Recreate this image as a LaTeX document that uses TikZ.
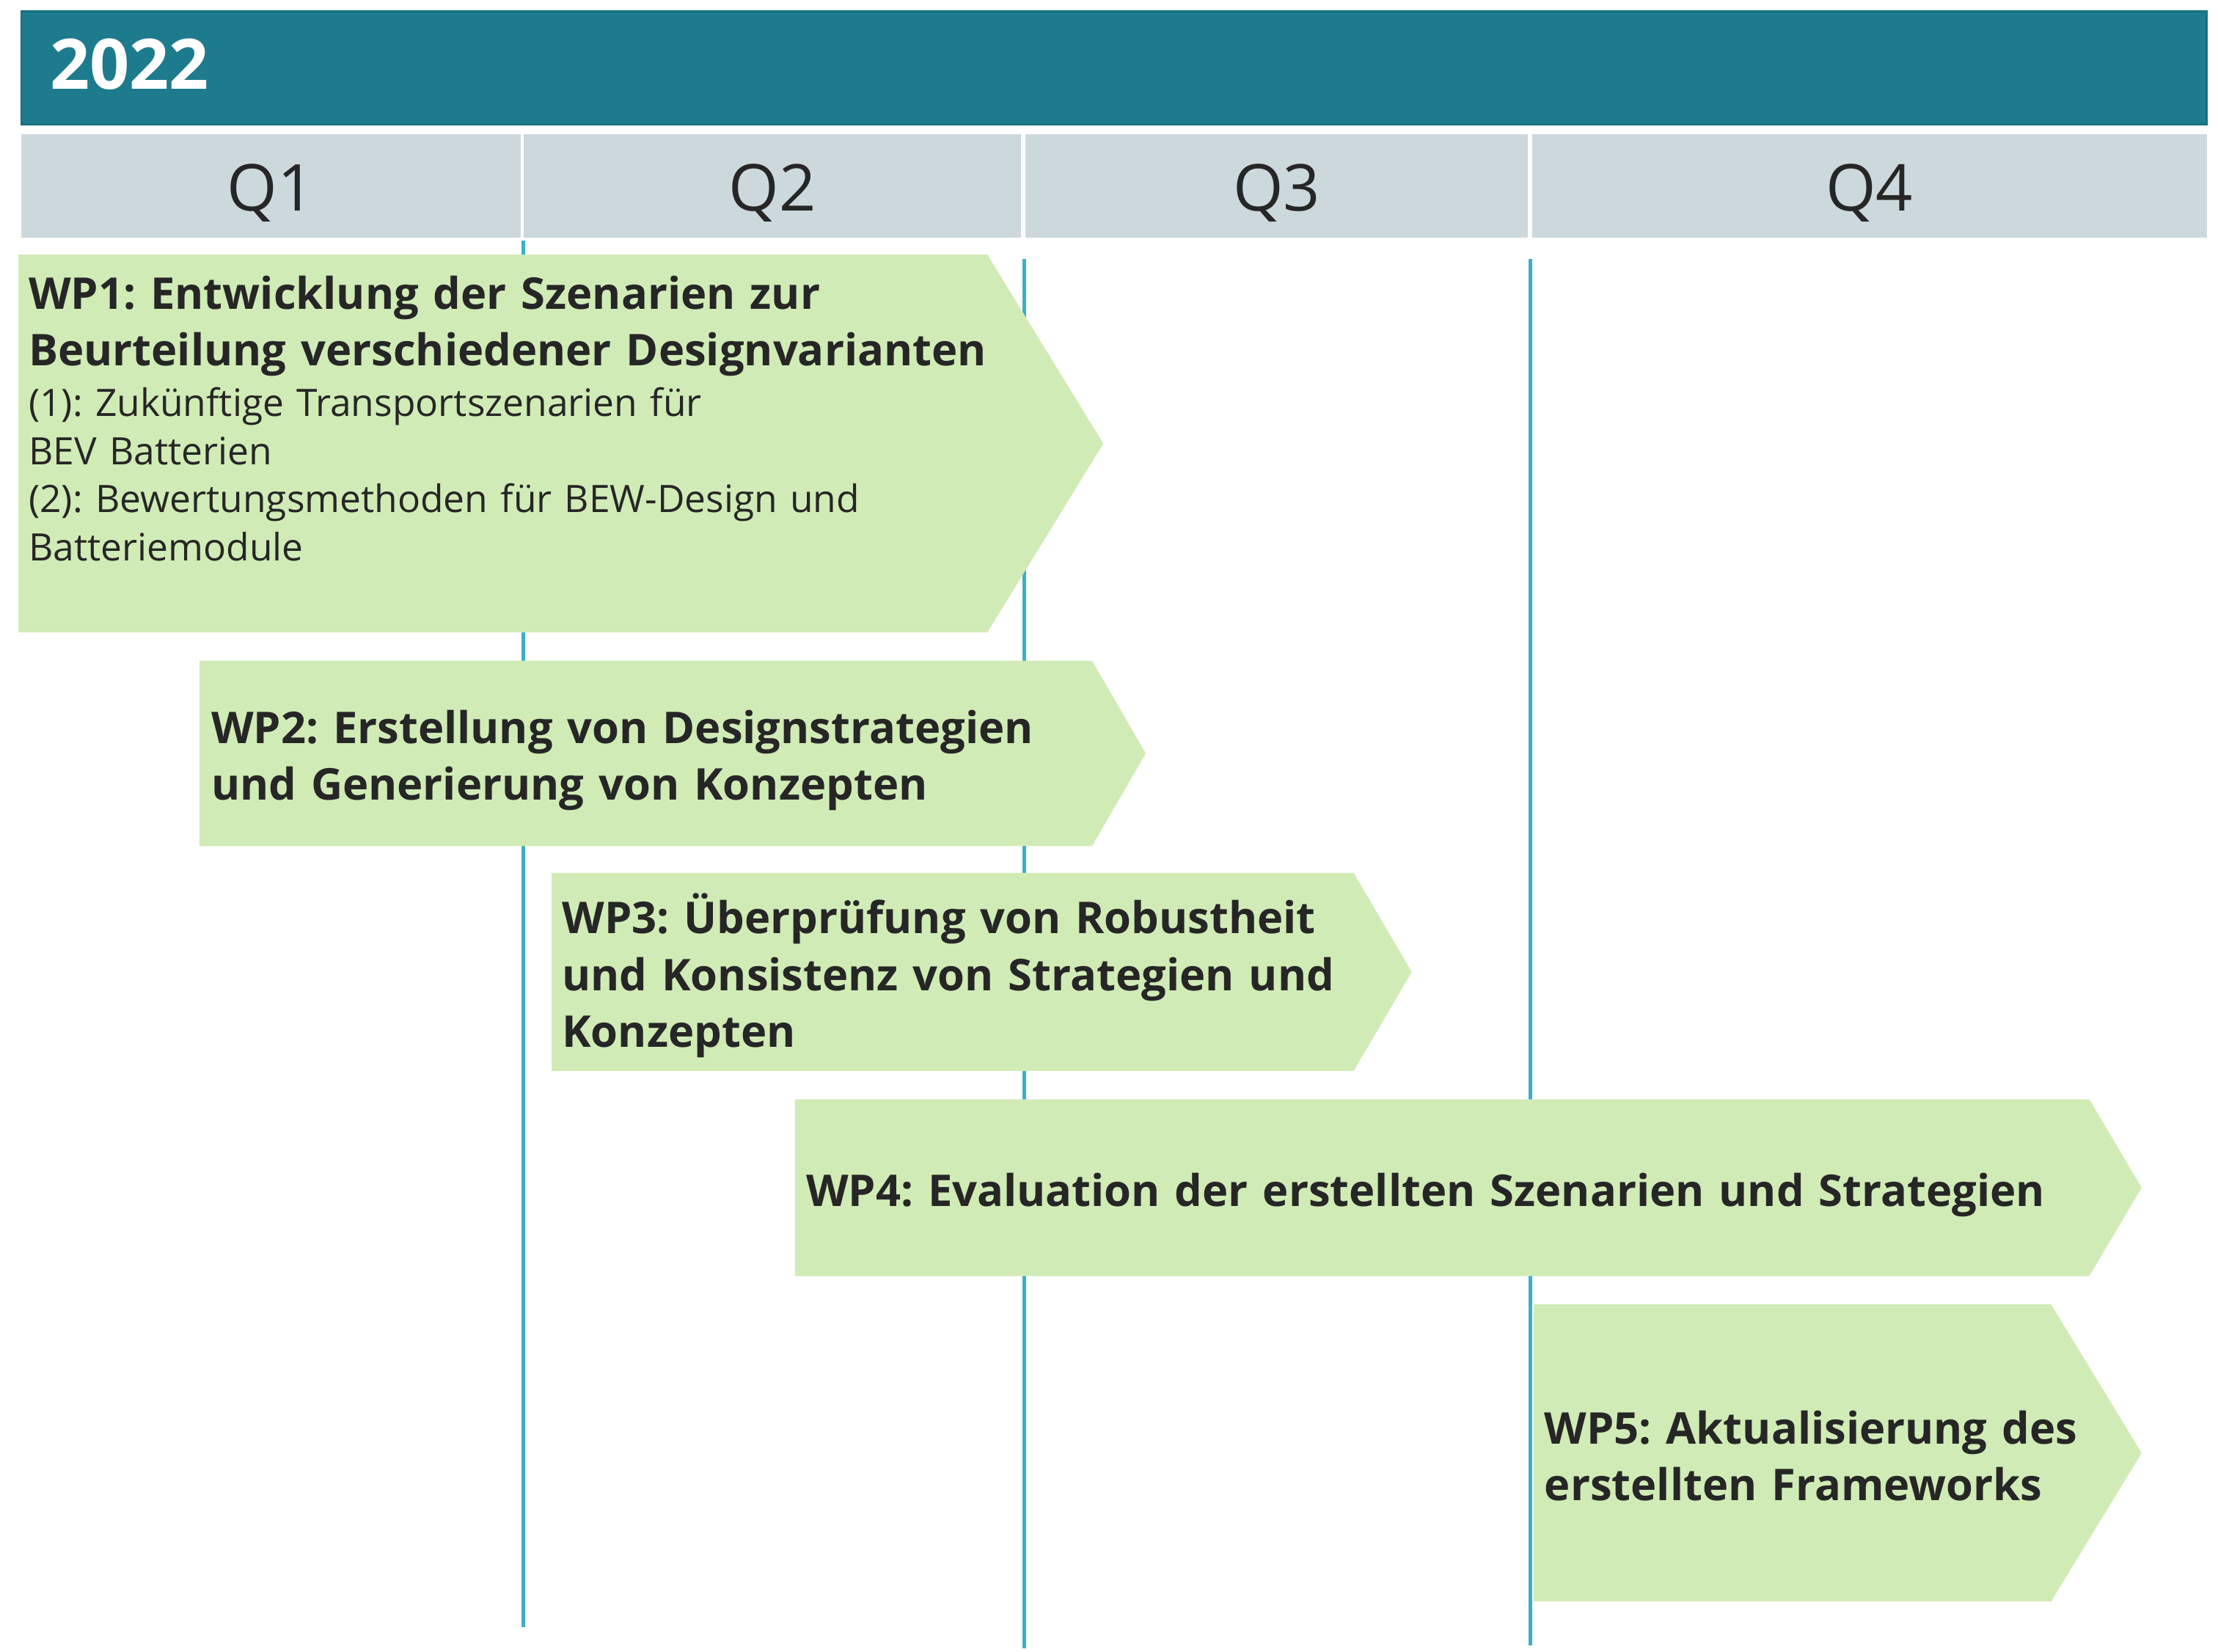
\documentclass[tikz,border=0pt]{standalone}
\usepackage{fontspec}
\setmainfont{Open Sans}
\usetikzlibrary{positioning, calc}
\definecolor{yearteal}{HTML}{1E7B8E}
\definecolor{yeartealdark}{HTML}{16707F}
\definecolor{quartergray}{HTML}{CDD8DD}
\definecolor{wpgreen}{HTML}{D1EBB6}
\definecolor{lineblue}{HTML}{3AAFCA}
\definecolor{darktext}{HTML}{262626}
\frenchspacing

\begin{document}
\begin{tikzpicture}
    % Stili del diagramma
    \tikzset{
        year_bar/.style={
            fill=yearteal, % Sfondo
            draw=yeartealdark,
            line width=0.8pt,
            inner sep=0pt,
            outer sep=0pt
        },
        year_text/.style={
            text=white,
            anchor=base west,
            inner sep=0pt,
            font=\bfseries\fontsize{28}{32}\selectfont
        },
        quarter_cell/.style={
            fill=quartergray, % Sfondo
            text=darktext,
            minimum height=1.46cm,
            text height=0.7cm, % Linea di base fissa
            text depth=0cm,
            inner sep=0pt,
            outer sep=0pt,
            font=\fontsize{26}{30}\selectfont
        },
        wp_arrow/.style={
            fill=wpgreen
        },
        wp_title/.style={
            anchor=base west,
            text=darktext,
            inner sep=0pt,
            align=left,
            font=\bfseries\fontsize{17.6}{22.76}\selectfont
        },
        wp_detail/.style={
            anchor=base west,
            text=darktext,
            inner sep=0pt,
            align=left,
            font=\fontsize{15.2}{19.35}\selectfont
        },
        time_line/.style={
            draw=lineblue,
            line width=1.4pt
        }
    }

    \useasboundingbox (0,0) rectangle (31.36,-23.344);

    % Barra dell'anno
    \node[year_bar, minimum width=30.9cm, minimum height=1.6cm] (year_bar) at (15.75,-0.96) {};
    \node[year_text] (year_label) at (0.70,-1.262) {2022};

    % Trimestri
    \node[quarter_cell, minimum width=7.06cm] (q1) at (3.83,-2.63) {Q1};
    \node[quarter_cell, minimum width=7.04cm] (q2) at (10.92,-2.63) {Q2};
    \node[quarter_cell, minimum width=7.10cm] (q3) at (18.05,-2.63) {Q3};
    \node[quarter_cell, minimum width=9.54cm] (q4) at (26.43,-2.63) {Q4};

    % Linee verticali
    \draw[time_line] (7.40,-3.40) -- (7.40,-23.00);
    \draw[time_line] (14.48,-3.66) -- (14.48,-23.30);
    \draw[time_line] (21.64,-3.66) -- (21.64,-23.26);

    % Frecce dei pacchetti di lavoro
    \fill[wp_arrow] (0.26,-3.60) -- (13.96,-3.60) -- (15.60,-6.27) -- (13.96,-8.94) -- (0.26,-8.94) -- cycle;
    \fill[wp_arrow] (2.82,-9.34) -- (15.44,-9.34) -- (16.20,-10.65) -- (15.44,-11.96) -- (2.82,-11.96) -- cycle;
    \fill[wp_arrow] (7.80,-12.34) -- (19.14,-12.34) -- (19.96,-13.74) -- (19.14,-15.14) -- (7.80,-15.14) -- cycle;
    \fill[wp_arrow] (11.24,-15.54) -- (29.54,-15.54) -- (30.28,-16.79) -- (29.54,-18.04) -- (11.24,-18.04) -- cycle;
    \fill[wp_arrow] (21.68,-18.44) -- (29.00,-18.44) -- (30.28,-20.54) -- (29.00,-22.64) -- (21.68,-22.64) -- cycle;

    % Testi
    \node[wp_title, text width=14cm] (wp1_title) at (0.40,-4.366) {WP1: Entwicklung der Szenarien zur\\Beurteilung verschiedener Designvarianten};
    \node[wp_detail, text width=14cm] (wp1_detail) at (0.40,-5.886) {(1): Zukünftige Transportszenarien für\\BEV Batterien\\(2): Bewertungsmethoden für BEW-Design und\\Batteriemodule};
    \node[wp_title, text width=13cm] (wp2_title) at (2.98,-10.51) {WP2: Erstellung von Designstrategien\\und Generierung von Konzepten};
    \node[wp_title, text width=11.5cm] (wp3_title) at (7.94,-13.20) {WP3: Überprüfung von Robustheit\\und Konsistenz von Strategien und\\Konzepten};
    \node[wp_title, text width=18cm] (wp4_title) at (11.39,-17.05) {WP4: Evaluation der erstellten Szenarien und Strategien};
    \node[wp_title, text width=8cm] (wp5_title) at (21.83,-20.41) {WP5: Aktualisierung des\\erstellten Frameworks};

\end{tikzpicture}
\end{document}
